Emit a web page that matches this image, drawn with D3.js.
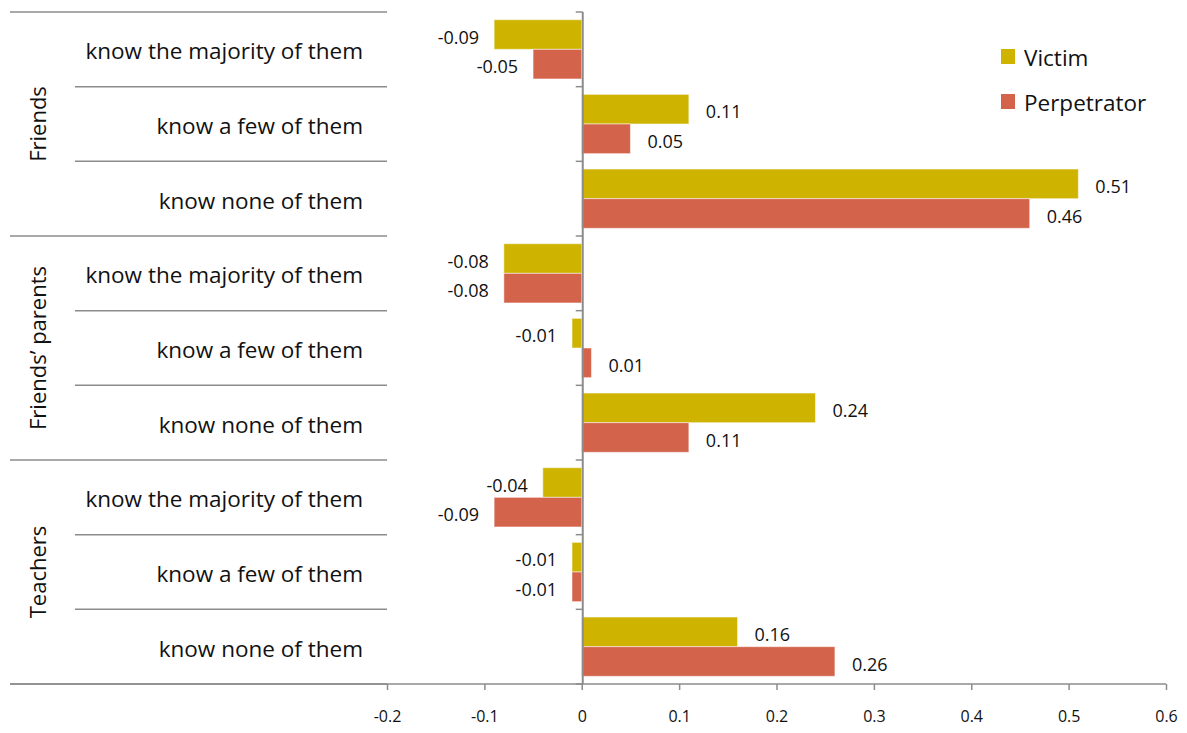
<!DOCTYPE html>
<html>
<head>
<meta charset="utf-8">
<script src="https://cdn.jsdelivr.net/npm/d3@7"></script>
<style>
  body { margin: 0; background: #fff; }
  text { font-family: "Open Sans", "Noto Sans", sans-serif; fill: #111; }
</style>
</head>
<body>
<svg class="chart" width="1187" height="733"></svg>
<script>
var groups = ["Friends", "Friends\u2019 parents", "Teachers"]
var items = ["know the majority of them", "know a few of them", "know none of them"]
var series = ["Victim", "Perpetrator"]
var victim = [-0.09, 0.11, 0.51, -0.08, -0.01, 0.24, -0.04, -0.01, 0.16]
var perpetrator = [-0.05, 0.05, 0.46, -0.08, 0.01, 0.11, -0.09, -0.01, 0.26]
var xTicks = [-0.2, -0.1, 0, 0.1, 0.2, 0.3, 0.4, 0.5, 0.6]

var colors = { "Victim": "#ceb400", "Perpetrator": "#d3644b" }
var axisColor = "#8c8c8c"

// d3.format gives a unicode minus, the original uses a plain hyphen
function fmt(spec) {
  var f = d3.format(spec)
  return function(v) { return f(v).replace("\u2212", "-") }
}

var rows = []
groups.forEach(function(g, gi) {
  items.forEach(function(it, ii) {
    var i = gi * items.length + ii
    rows.push({ key: i, group: g, item: it, Victim: victim[i], Perpetrator: perpetrator[i] })
  })
})

var chart = d3.select(".chart")
var plotTop = 12, plotBottom = 684, plotLeft = 387, plotRight = 1166

var x = d3.scaleLinear().domain([-0.2, 0.6]).range([plotLeft, plotRight])
var y = d3.scaleBand().domain(rows.map(function(d) { return d.key })).range([plotTop, plotBottom])
var ySub = d3.scaleBand().domain(series).range([0, y.bandwidth()]).paddingOuter(0.26)

// bars
var rowG = chart.selectAll(".row")
    .data(rows)
  .enter().append("g")
    .attr("class", "row")
    .attr("transform", function(d) { return "translate(0," + y(d.key) + ")" })

rowG.selectAll("rect")
    .data(function(d) { return series.map(function(s) { return { s: s, v: d[s] } }) })
  .enter().append("rect")
    .attr("x", function(d) { return x(Math.min(0, d.v)) })
    .attr("width", function(d) { return Math.abs(x(d.v) - x(0)) })
    .attr("y", function(d) { return ySub(d.s) })
    .attr("height", ySub.bandwidth())
    .attr("fill", function(d) { return colors[d.s] })
    .attr("stroke", "#ffffff")
    .attr("stroke-opacity", 0.5)
    .attr("stroke-width", 1)

var valFmt = fmt(".2f")
rowG.selectAll(".val")
    .data(function(d) { return series.map(function(s) { return { s: s, v: d[s] } }) })
  .enter().append("text")
    .attr("class", "val")
    .attr("x", function(d) { return d.v >= 0 ? x(d.v) + 17 : x(d.v) - 15 })
    .attr("y", function(d) { return ySub(d.s) + ySub.bandwidth() / 2 + 3 })
    .attr("dy", "0.35em")
    .attr("text-anchor", function(d) { return d.v >= 0 ? "start" : "end" })
    .style("font-size", "18px")
    .text(function(d) { return valFmt(d.v) })

// x axis
var tickFmt = fmt(".1f")
var xAxis = chart.append("g")
    .attr("transform", "translate(0," + plotBottom + ")")
    .call(d3.axisBottom(x).tickValues(xTicks).tickSize(6).tickPadding(21)
      .tickFormat(function(d) { return d === 0 ? "0" : tickFmt(d) }))
xAxis.select(".domain").remove()
xAxis.selectAll("line").attr("stroke", axisColor).attr("stroke-width", 1.5)
xAxis.selectAll("text").style("font-size", "16px").attr("fill", "#111")
  .style("font-family", "'Open Sans', sans-serif")

chart.append("line")
    .attr("x1", 10).attr("x2", plotRight)
    .attr("y1", plotBottom).attr("y2", plotBottom)
    .attr("stroke", axisColor).attr("stroke-width", 1.5)

// vertical zero axis with row ticks
var boundaries = rows.map(function(d) { return y(d.key) }).concat([plotBottom])
chart.append("line")
    .attr("x1", x(0) + 1).attr("x2", x(0) + 1)
    .attr("y1", plotTop).attr("y2", plotBottom)
    .attr("stroke", axisColor).attr("stroke-width", 2)
chart.selectAll(".ytick")
    .data(boundaries)
  .enter().append("line")
    .attr("class", "ytick")
    .attr("x1", x(0) - 6).attr("x2", x(0) + 1)
    .attr("y1", function(d) { return d }).attr("y2", function(d) { return d })
    .attr("stroke", axisColor).attr("stroke-width", 1.5)

// category table on the left
chart.selectAll(".sep")
    .data(rows.map(function(d) { return d.key }).concat([rows.length]))
  .enter().append("line")
    .attr("class", "sep")
    .attr("x1", function(d) { return d % items.length === 0 ? 10 : 75 })
    .attr("x2", plotLeft)
    .attr("y1", function(d) { return d < rows.length ? y(d) : plotBottom })
    .attr("y2", function(d) { return d < rows.length ? y(d) : plotBottom })
    .attr("stroke", axisColor).attr("stroke-width", 1.5)

chart.selectAll(".item")
    .data(rows)
  .enter().append("text")
    .attr("class", "item")
    .attr("x", 363)
    .attr("y", function(d) { return y(d.key) + y.bandwidth() / 2 + 2 })
    .attr("dy", "0.35em")
    .attr("text-anchor", "end")
    .style("font-size", "22.5px")
    .text(function(d) { return d.item })

chart.selectAll(".group")
    .data(groups)
  .enter().append("text")
    .attr("class", "group")
    .attr("transform", function(d, i) {
      var cy = (y(i * items.length) + y(i * items.length + items.length - 1) + y.bandwidth()) / 2
      return "translate(38," + cy + ") rotate(-90)"
    })
    .attr("dy", "0.35em")
    .attr("text-anchor", "middle")
    .style("font-size", "22px")
    .text(function(d) { return d })

// legend
var legend = chart.selectAll(".legend")
    .data(series)
  .enter().append("g")
    .attr("class", "legend")
    .attr("transform", function(d, i) { return "translate(1001," + (49 + i * 45) + ")" })
legend.append("rect")
    .attr("width", 14).attr("height", 15)
    .attr("fill", function(d) { return colors[d] })
legend.append("text")
    .attr("x", 23).attr("y", 9)
    .attr("dy", "0.35em")
    .style("font-size", "22.5px")
    .text(function(d) { return d })
</script>
</body>
</html>
